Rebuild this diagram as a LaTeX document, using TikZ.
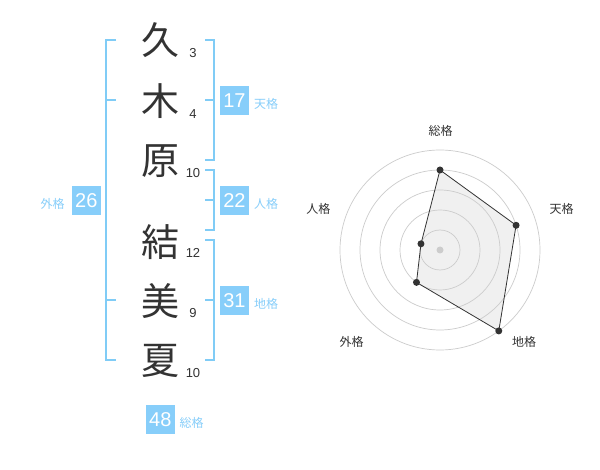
\documentclass[tikz,border=0pt]{standalone}
\usepackage{fontspec}
\setmainfont{Liberation Sans}
\newfontfamily\jp{Noto Sans CJK JP}
\definecolor{sky}{RGB}{135,206,250}
\definecolor{skyline}{RGB}{128,204,246}
\definecolor{ink}{RGB}{51,51,51}
\definecolor{gridgray}{RGB}{204,204,204}
\definecolor{polyfill}{RGB}{240,240,240}
\begin{document}
\begin{tikzpicture}[x=1pt,y=-1pt,
  kanji/.style={font=\jp\fontsize{38}{38}\selectfont, text=ink, inner sep=0pt},
  strokenum/.style={font=\fontsize{13}{13}\selectfont, text=ink, inner sep=0pt},
  numbox/.style={fill=sky, text=white, minimum size=28.5pt, inner sep=0pt, font=\fontsize{20}{20}\selectfont},
  kaku/.style={font=\jp\fontsize{12}{12}\selectfont, text=sky, inner sep=0pt},
  axislabel/.style={font=\jp\fontsize{12}{12}\selectfont, text=ink, inner sep=0pt},
  bracket/.style={draw=skyline, line width=2pt},
  gridring/.style={draw=gridgray, line width=0.7pt},
  dot/.style={circle, fill=ink, minimum size=7pt, inner sep=0pt},
  centerdot/.style={circle, fill=gridgray, minimum size=7pt, inner sep=0pt}]
\useasboundingbox (0,0) rectangle (600,470);
\fill[white] (0,0) rectangle (600,470);

% characters
\node[kanji] (k1) at (160,40) {久};
\node[kanji] (k2) at (160,101) {木};
\node[kanji] (k3) at (160,161) {原};
\node[kanji] (k4) at (160,242) {結};
\node[kanji] (k5) at (160,301) {美};
\node[kanji] (k6) at (160,361) {夏};

% stroke counts
\node[strokenum] (s1) at (193,53) {3};
\node[strokenum] (s2) at (193,114) {4};
\node[strokenum] (s3) at (193,173) {10};
\node[strokenum] (s4) at (193,252.5) {12};
\node[strokenum] (s5) at (193,313.5) {9};
\node[strokenum] (s6) at (193,373) {10};

% brackets
\draw[bracket] (116,40) -- (106,40) -- (106,360) -- (116,360);
\draw[bracket] (106,100) -- (116,100);
\draw[bracket] (106,300) -- (116,300);
\draw[bracket] (205,40) -- (214,40) -- (214,160) -- (205,160);
\draw[bracket] (205,100) -- (214,100);
\draw[bracket] (205,170) -- (214,170) -- (214,230) -- (205,230);
\draw[bracket] (205,200) -- (214,200);
\draw[bracket] (205,240) -- (214,240) -- (214,360) -- (205,360);
\draw[bracket] (205,300) -- (214,300);

% score boxes
\node[numbox] (ten) at (234.5,100.3) {17};
\node[numbox] (jin) at (234.5,200.3) {22};
\node[numbox] (chi) at (234.5,300.3) {31};
\node[numbox] (gai) at (86.3,200.3) {26};
\node[numbox] (sou) at (160.3,419.3) {48};
\node[kaku] (tenl) at (266,104) {天格};
\node[kaku] (jinl) at (266,204) {人格};
\node[kaku] (chil) at (266,304) {地格};
\node[kaku] (gail) at (52.7,204) {外格};
\node[kaku] (soul) at (191.7,423) {総格};

% radar chart
\coordinate (c) at (440,250);
\coordinate (vS) at ([shift={(-90:80)}]c);
\coordinate (vT) at ([shift={(-18:80)}]c);
\coordinate (vC) at ([shift={(54:100)}]c);
\coordinate (vG) at ([shift={(126:40)}]c);
\coordinate (vJ) at ([shift={(198:20)}]c);
\fill[polyfill] (vS) -- (vT) -- (vC) -- (vG) -- (vJ) -- cycle;
\foreach \r in {20,40,60,80,100} \draw[gridring] (c) circle[radius=\r pt];
\node[centerdot] (cd) at (c) {};
\draw[ink, line width=0.8pt] (vS) -- (vT) -- (vC) -- (vG) -- (vJ) -- cycle;
\node[dot] (pS) at (vS) {};
\node[dot] (pT) at (vT) {};
\node[dot] (pC) at (vC) {};
\node[dot] (pG) at (vG) {};
\node[dot] (pJ) at (vJ) {};
\node[axislabel] (aS) at (440.7,130.7) {総格};
\node[axislabel] (aT) at (561.7,209) {天格};
\node[axislabel] (aC) at (524,341.7) {地格};
\node[axislabel] (aG) at (351.7,341.7) {外格};
\node[axislabel] (aJ) at (318.3,209) {人格};
\end{tikzpicture}
\end{document}
